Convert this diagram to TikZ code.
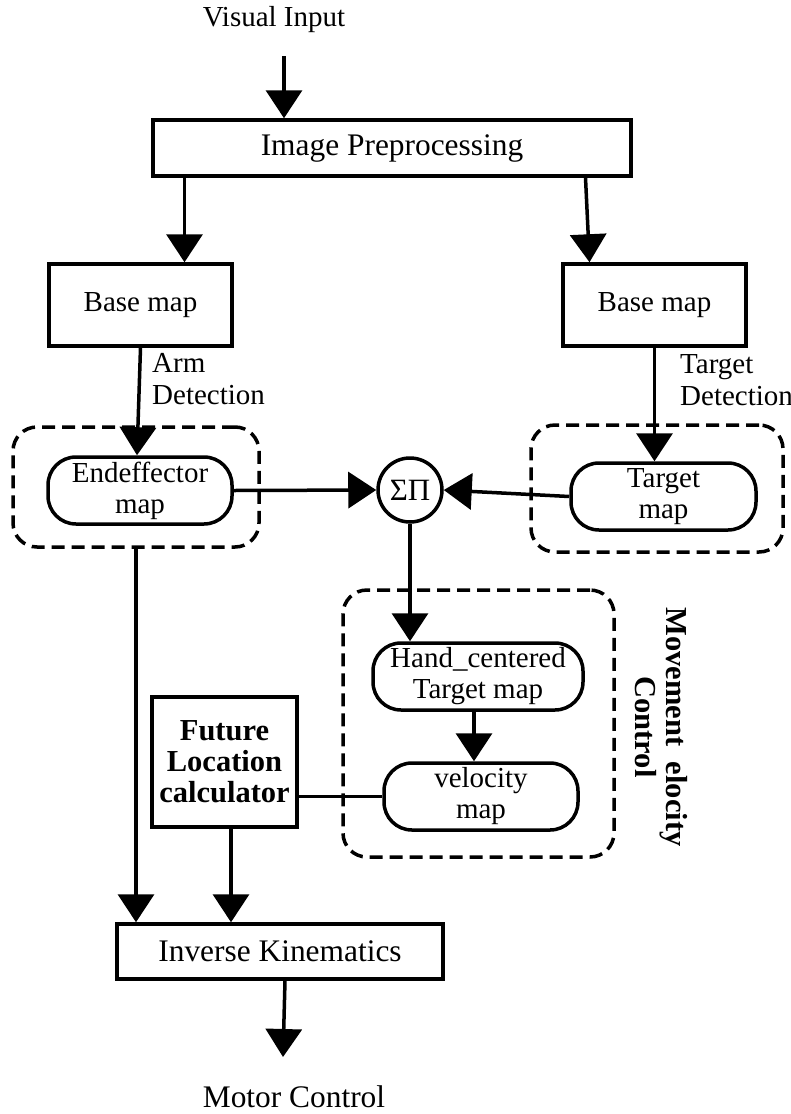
\documentclass[tikz,border=0pt]{standalone}
\usepackage{fontspec}
\setmainfont{Liberation Serif}
\usetikzlibrary{arrows.meta,calc}

\begin{document}
\begin{tikzpicture}[x=1pt,y=-1pt,
  every node/.style={font=\fontsize{29}{31}\selectfont, inner sep=0pt, align=center},
  big/.style={font=\fontsize{31.4}{33}\selectfont},
  box/.style={draw, line width=3.5pt},
  pill/.style={draw, line width=3.5pt, rounded corners=28pt, minimum height=67pt},
  group/.style={draw, line width=3.5pt, rounded corners=24pt, dash pattern=on 13pt off 7pt},
  link/.style={line width=3.5pt},
  arr/.style={line width=3.5pt, -{Triangle[length=28pt,width=36pt]}},
]
\useasboundingbox (0,0) rectangle (791,1114);

% dashed groups
\node[group, minimum width=246pt, minimum height=120pt] (gl) at (136,487) {};
\node[group, minimum width=252pt, minimum height=127pt] (gr) at (657,488.5) {};
\node[group, minimum width=271pt, minimum height=267pt] (gm) at (478.5,723.5) {};

% free texts
\node (vis) at (274,20) {Visual Input};
\node[big] (mot) at (294,1097) {Motor Control};
\node[anchor=base west] (arm) at (152,372) {Arm};
\node[anchor=base west] (armd) at (152,404) {Detection};
\node[anchor=base west] (tg) at (680,373) {Target};
\node[anchor=base west] (tgd) at (680,405) {Detection};
\node[rotate=-90, font=\fontsize{30.5}{31}\bfseries] (mvc) at (661,727) {Movement\ \ elocity\\Control};

% blocks
\node[box, big, minimum width=478pt, minimum height=56pt] (pre) at (392,148) {Image Preprocessing};
\node[box, minimum width=183pt, minimum height=82pt] (bml) at (140.5,305) {Base map};
\node[box, minimum width=183pt, minimum height=82pt] (bmr) at (654.5,305) {Base map};
\node[pill, minimum width=184pt] (end) at (140,490.5) {Endeffector\\map};
\node[pill, minimum width=185pt] (tgt) at (663.5,496.5) {Target\\map};
\node[draw, line width=3.5pt, circle, minimum size=64pt, font=\fontsize{31}{31}\selectfont] (sig) at (410,490) {ΣΠ};
\node[pill, minimum width=210pt] (hand) at (478,676.5) {Hand\_centered\\Target map};
\node[pill, minimum width=194pt] (vel) at (481,796.5) {velocity\\map};
\node[box, minimum width=145pt, minimum height=130pt, font=\fontsize{30.5}{31}\bfseries] (fut) at (224.5,762) {Future\\Location\\calculator};
\node[box, big, minimum width=326pt, minimum height=55pt] (inv) at (280,951.5) {Inverse Kinematics};

% connectors
\coordinate (vin) at (284,56);
\coordinate (mc) at (283,1057);
\draw[arr] (vin) -- (pre.north -| vin);
\draw[arr] ($(pre.south -| bml.north)+(44,0)$) -- ($(bml.north)+(44,0)$);
\draw[arr] ($(pre.south -| bmr.north)+(-69,0)$) -- ($(bmr.north)+(-65,0)$);
\draw[arr] (bml.south) -- ($(end.north)+(-3,0)$);
\draw[arr] (bmr.south) -- (tgt.north -| bmr.south);
\draw[arr] (end.east) -- (sig.west);
\draw[arr] (tgt.west) -- (sig.east);
\draw[arr] (sig.south) -- (hand.north -| sig.south);
\draw[arr] ($(hand.south)+(-4,0)$) -- ($(vel.north)+(-7,0)$);
\draw[link] (fut.east |- vel.west) -- (vel.west);
\draw[arr] ($(fut.south)+(6.5,0)$) -- ($(inv.north -| fut.south)+(6.5,0)$);
\draw[arr] (gl.south) -- (inv.north -| gl.south);
\draw[arr] ($(inv.south)+(5,0)$) -- (mc);
\end{tikzpicture}
\end{document}
